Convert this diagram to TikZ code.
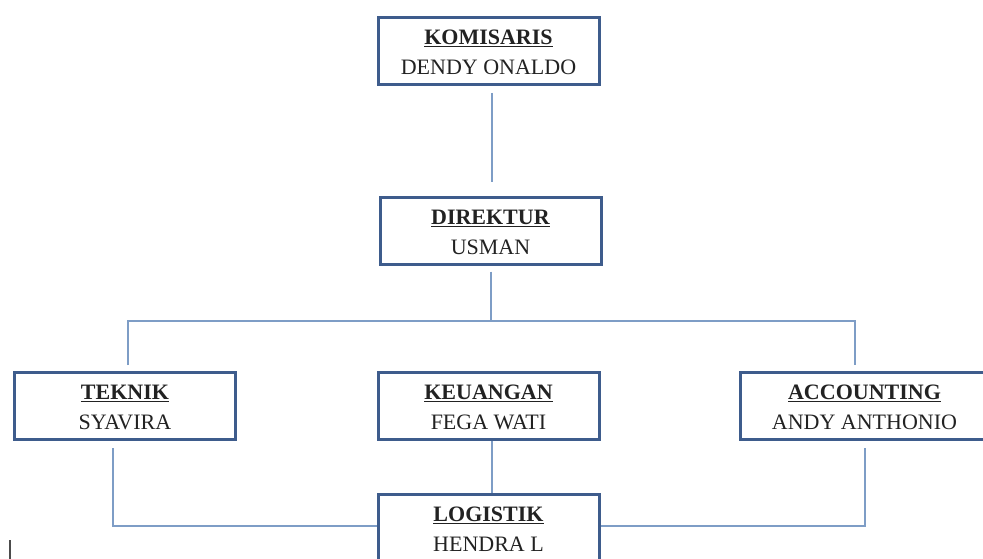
\documentclass[tikz,border=0pt]{standalone}
\usepackage{fontspec}
\setmainfont{Liberation Serif}
\definecolor{boxcol}{HTML}{3E5C8C}
\definecolor{linecol}{HTML}{7E9DC6}
\definecolor{txtcol}{HTML}{222222}
\newcommand{\ttl}[1]{\rule{0pt}{18pt}\underline{\textbf{#1}}}
\begin{document}
\begin{tikzpicture}[x=1pt,y=-1pt,
  box/.style={draw=boxcol,line width=3pt,fill=white,rectangle,minimum width=221pt,minimum height=67pt,inner sep=0pt,align=center,font=\fontsize{22}{30}\selectfont,text=txtcol},
  conn/.style={draw=linecol,line width=2pt}]
\useasboundingbox (0,0) rectangle (983,559);
\clip (0,0) rectangle (983,559);
\fill[white] (0,0) rectangle (983,559);

\node[box] (kom) at (488.5,51) {\ttl{KOMISARIS}\\DENDY ONALDO};
\node[box] (dir) at (490.5,230.5) {\ttl{DIREKTUR}\\USMAN};
\node[box] (tek) at (125,406) {\ttl{TEKNIK}\\SYAVIRA};
\node[box] (keu) at (488.5,406) {\ttl{KEUANGAN}\\FEGA WATI};
\node[box,minimum width=248pt] (acc) at (864.5,406) {\ttl{ACCOUNTING}\\ANDY ANTHONIO};
\node[box] (log) at (488.5,528) {\ttl{LOGISTIK}\\HENDRA L};

\coordinate (hj) at (491,321);
\coordinate (hl) at (128,321);
\coordinate (hr) at (855,321);

\draw[conn] ([shift={(3.5,7)}]kom.south) -- ([shift={(1.5,-13)}]dir.north);
\draw[conn] ([shift={(0.5,6)}]dir.south) -- (hj);
\draw[conn] ([shift={(3,-6)}]tek.north) -- (hl) -- (hr) -- ([shift={(-9.5,-6)}]acc.north);
\draw[conn] ([shift={(-12,7)}]tek.south) |- ([yshift=2pt]log.west);
\draw[conn] ([yshift=-7pt]acc.south) |- ([yshift=2pt]log.east);
\draw[conn] ([xshift=3.5pt]keu.south) -- ([xshift=3.5pt]log.north);

\draw[line width=1.5pt,black!70] (10,540) -- (10,559);
\end{tikzpicture}
\end{document}
